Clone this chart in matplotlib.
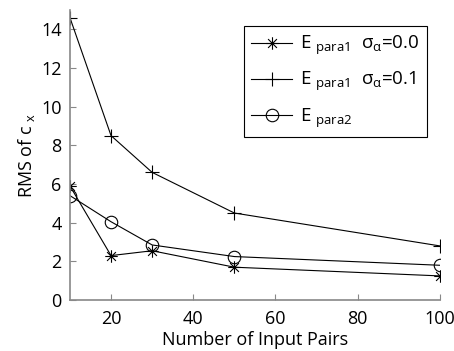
import numpy as np
import matplotlib
matplotlib.use('Agg')
import matplotlib.pyplot as plt
from matplotlib.path import Path

plt.rcParams['font.family'] = ['Open Sans', 'DejaVu Sans']
plt.rcParams['mathtext.fontset'] = 'custom'
plt.rcParams['mathtext.rm'] = 'Open Sans'
plt.rcParams['mathtext.it'] = 'Open Sans'

pairs = [10, 20, 30, 50, 100]
rms_para1_s00 = [5.9, 2.3, 2.55, 1.7, 1.25]
rms_para1_s01 = [14.6, 8.5, 6.6, 4.5, 2.8]
rms_para2 = [5.4, 4.05, 2.85, 2.25, 1.8]

# eight-armed asterisk: a plus and a cross drawn together
d = 0.7071
star = Path([(-1, 0), (1, 0), (0, -1), (0, 1), (-d, -d), (d, d), (-d, d), (d, -d)],
            [Path.MOVETO, Path.LINETO] * 4)

fig = plt.figure(figsize=(4.54, 3.51), dpi=100)
ax = fig.add_axes([0.154, 0.145, 0.815, 0.827])

ax.plot(pairs, rms_para1_s00, 'k-', marker=star, ms=9, lw=0.8, mew=0.8,
        label=r'E $_{\mathrm{para1}}$  $\sigma_{\alpha}$=0.0')
ax.plot(pairs, rms_para1_s01, 'k-', marker='+', ms=10, lw=0.8, mew=0.8,
        label=r'E $_{\mathrm{para1}}$  $\sigma_{\alpha}$=0.1')
ax.plot(pairs, rms_para2, 'k-', marker='o', ms=9, mfc='none', lw=0.8, mew=0.8,
        label=r'E $_{\mathrm{para2}}$')

ax.set_xlim(10, 100)
ax.set_ylim(0, 15)
ax.set_xticks([20, 40, 60, 80, 100])
ax.set_yticks(np.arange(0, 15, 2))
ax.tick_params(labelsize=13, direction='in', length=4, color='#888888')
ax.tick_params(axis='x', pad=7)
ax.tick_params(axis='y', pad=6)
for s in ['top', 'right']:
    ax.spines[s].set_visible(False)
for s in ['left', 'bottom']:
    ax.spines[s].set_color('#888888')
    ax.spines[s].set_linewidth(1.2)

ax.set_xlabel('Number of Input Pairs', fontsize=13, labelpad=2)
ax.set_ylabel(r'RMS of c $_{\mathrm{x}}$', fontsize=13, labelpad=3)

leg = ax.legend(loc='upper right', bbox_to_anchor=(0.99, 0.975), fontsize=13.5,
                fancybox=False, edgecolor='k', framealpha=1, handlelength=2.2,
                handletextpad=0.4, labelspacing=0.7, borderpad=0.4)
leg.get_frame().set_linewidth(0.8)

fig.savefig('out.png', dpi=100)
